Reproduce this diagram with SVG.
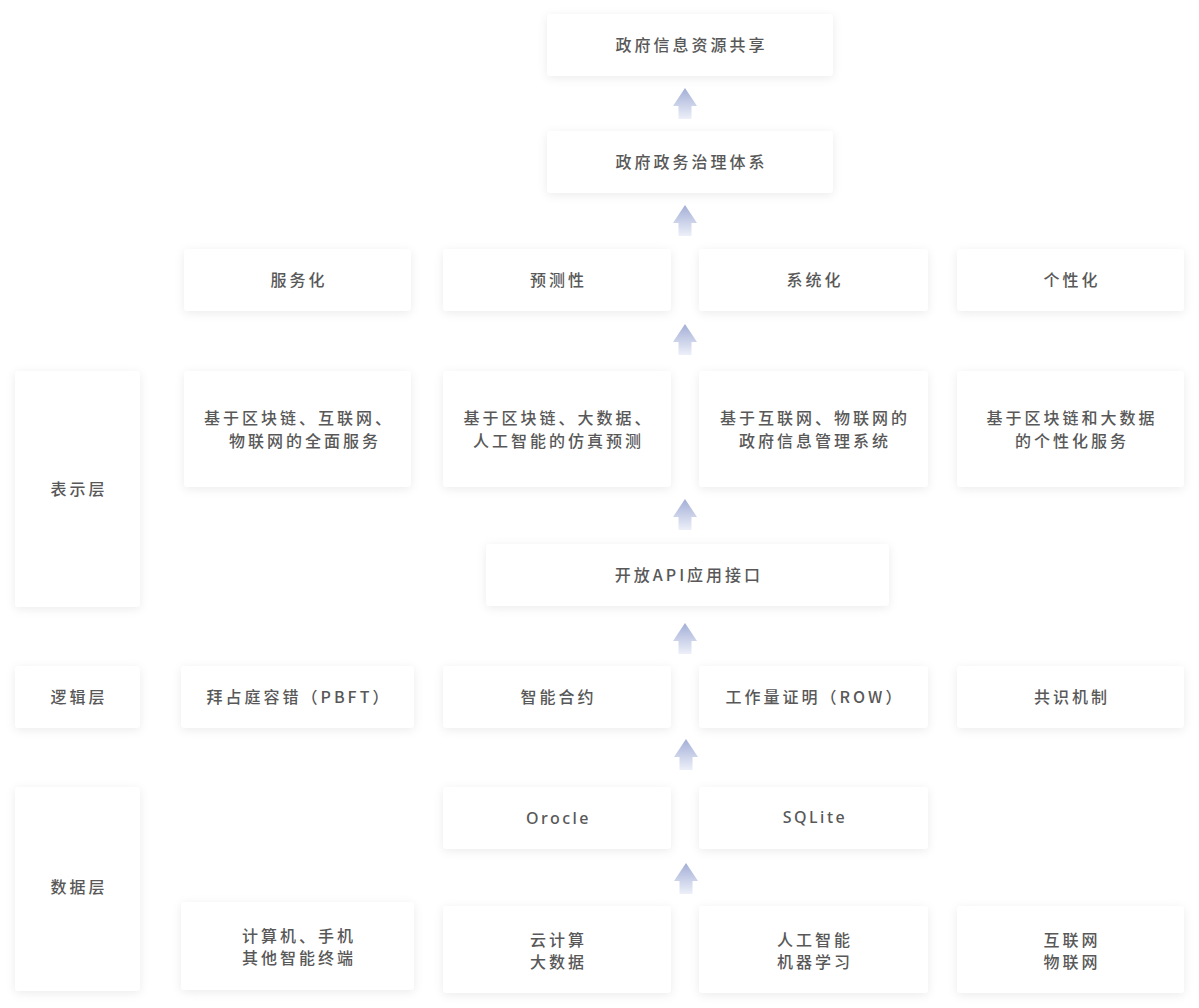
<svg xmlns="http://www.w3.org/2000/svg" width="1199" height="1008" viewBox="0 0 1199 1008">
<defs>
<filter id="sh" x="-20%" y="-30%" width="140%" height="160%">
<feDropShadow dx="0" dy="2" stdDeviation="5" flood-color="#000" flood-opacity="0.08"/>
</filter>
<linearGradient id="ag" x1="0" y1="0" x2="0" y2="1">
<stop offset="0" stop-color="#a2aed6"/>
<stop offset="1" stop-color="#edf0f9"/>
</linearGradient>
<path id="arrow" d="M0,0 L12,18 L6.5,18 L6.5,31 L-6.5,31 L-6.5,18 L-12,18 Z" fill="url(#ag)"/>
</defs>
<style>
.b{fill:#ffffff;filter:url(#sh)}
.t{font-family:"Noto Sans CJK SC","Noto Sans",sans-serif;font-size:16px;font-weight:500;fill:#585858;text-anchor:middle;letter-spacing:3px}
.l{font-family:"Noto Sans","Noto Sans CJK SC",sans-serif;font-size:16px;font-weight:500;fill:#585858;text-anchor:middle;letter-spacing:2.5px}
</style>
<rect width="1199" height="1008" fill="#ffffff"/>

<g id="connectors">
<use href="#arrow" x="685" y="88"/>
<use href="#arrow" x="685" y="205"/>
<use href="#arrow" x="685" y="324"/>
<use href="#arrow" x="685" y="499"/>
<use href="#arrow" x="685" y="623"/>
<use href="#arrow" x="686" y="739"/>
<use href="#arrow" x="686" y="863"/>
</g>

<g id="n-share"><rect class="b" x="547" y="14" width="286" height="62" rx="4"/><text class="t" x="691.5" y="51">政府信息资源共享</text></g>
<g id="n-govern"><rect class="b" x="547" y="131" width="286" height="62" rx="4"/><text class="t" x="691.5" y="168">政府政务治理体系</text></g>

<g id="n-service"><rect class="b" x="184" y="249" width="227" height="62" rx="4"/><text class="t" x="299" y="286">服务化</text></g>
<g id="n-predict"><rect class="b" x="443" y="249" width="228" height="62" rx="4"/><text class="t" x="558.5" y="286">预测性</text></g>
<g id="n-system"><rect class="b" x="699" y="249" width="229" height="62" rx="4"/><text class="t" x="815" y="286">系统化</text></g>
<g id="n-person"><rect class="b" x="957" y="249" width="227" height="62" rx="4"/><text class="t" x="1072" y="286">个性化</text></g>

<g id="l-present"><rect class="b" x="15" y="371" width="125" height="236" rx="4"/><text class="t" x="79" y="495">表示层</text></g>

<g id="n-full"><rect class="b" x="184" y="371" width="227" height="116" rx="4"/><text class="t" x="299" y="424">基于区块链、互联网、</text><text class="t" x="305" y="447">物联网的全面服务</text></g>
<g id="n-sim"><rect class="b" x="443" y="371" width="228" height="116" rx="4"/><text class="t" x="558.5" y="424">基于区块链、大数据、</text><text class="t" x="558.5" y="447">人工智能的仿真预测</text></g>
<g id="n-mgmt"><rect class="b" x="699" y="371" width="229" height="116" rx="4"/><text class="t" x="815" y="424">基于互联网、物联网的</text><text class="t" x="815" y="447">政府信息管理系统</text></g>
<g id="n-pserv"><rect class="b" x="957" y="371" width="227" height="116" rx="4"/><text class="t" x="1072" y="424">基于区块链和大数据</text><text class="t" x="1072" y="447">的个性化服务</text></g>

<g id="n-api"><rect class="b" x="486" y="544" width="403" height="62" rx="4"/><text class="t" x="689" y="581">开放API应用接口</text></g>

<g id="l-logic"><rect class="b" x="15" y="666" width="125" height="62" rx="4"/><text class="t" x="79" y="703">逻辑层</text></g>
<g id="n-pbft"><rect class="b" x="181" y="666" width="233" height="62" rx="4"/><text class="t" x="299" y="703">拜占庭容错（PBFT）</text></g>
<g id="n-contract"><rect class="b" x="443" y="666" width="228" height="62" rx="4"/><text class="t" x="558.5" y="703">智能合约</text></g>
<g id="n-row"><rect class="b" x="699" y="666" width="229" height="62" rx="4"/><text class="t" x="815" y="703">工作量证明（ROW）</text></g>
<g id="n-consensus"><rect class="b" x="957" y="666" width="227" height="62" rx="4"/><text class="t" x="1072" y="703">共识机制</text></g>

<g id="l-data"><rect class="b" x="15" y="787" width="125" height="204" rx="4"/><text class="t" x="79" y="893">数据层</text></g>
<g id="n-oracle"><rect class="b" x="443" y="787" width="228" height="62" rx="4"/><text class="l" x="558.5" y="824">Orocle</text></g>
<g id="n-sqlite"><rect class="b" x="699" y="787" width="229" height="62" rx="4"/><text class="l" x="815" y="823">SQLite</text></g>

<g id="n-device"><rect class="b" x="181" y="902" width="233" height="88" rx="4"/><text class="t" x="299" y="942">计算机、手机</text><text class="t" x="299" y="964">其他智能终端</text></g>
<g id="n-cloud"><rect class="b" x="443" y="906" width="228" height="87" rx="4"/><text class="t" x="558.5" y="946">云计算</text><text class="t" x="558.5" y="968">大数据</text></g>
<g id="n-ai"><rect class="b" x="699" y="906" width="229" height="87" rx="4"/><text class="t" x="815" y="946">人工智能</text><text class="t" x="815" y="968">机器学习</text></g>
<g id="n-iot"><rect class="b" x="957" y="906" width="227" height="87" rx="4"/><text class="t" x="1072" y="946">互联网</text><text class="t" x="1072" y="968">物联网</text></g>
</svg>
